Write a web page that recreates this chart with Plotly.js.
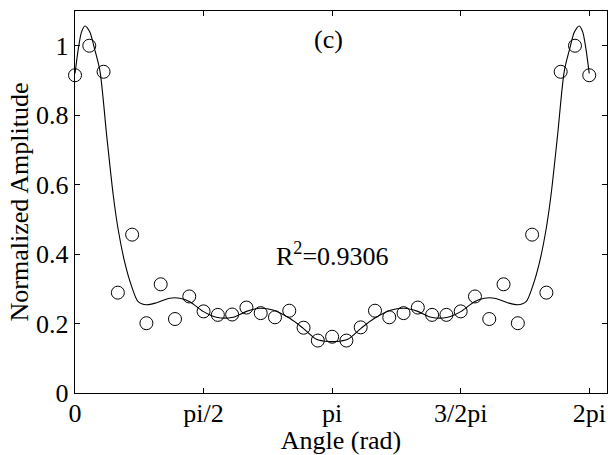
<!DOCTYPE html>
<html>
<head>
<meta charset="utf-8">
<script src="https://cdn.plot.ly/plotly-3.0.1.min.js"></script>
<style>html,body{margin:0;padding:0;background:#fff;}#chart{width:608px;height:455px;}</style>
</head>
<body>
<div id="chart"></div>
<script>
// Measured points: angle in degrees and normalized amplitude
const angleDeg = [0,10,20,30,40,50,60,70,80,90,100,110,120,130,140,150,160,170,180,
                  190,200,210,220,230,240,250,260,270,280,290,300,310,320,330,340,350,360];
const amplitude = [0.915,1.0,0.925,0.289,0.456,0.201,0.313,0.213,0.278,0.235,0.225,0.226,0.246,0.230,0.218,0.237,0.188,0.151,0.162,
                   0.151,0.189,0.237,0.218,0.230,0.246,0.225,0.225,0.235,0.278,0.213,0.313,0.201,0.456,0.289,0.925,1.0,0.915];

// Fitted curve (angle in rad, value)
const fitX = [0,0.04,0.08,0.122,0.18,0.24,0.305,0.387,0.467,0.528,0.61,0.692,0.772,0.875,0.997,1.159,1.281,1.403,1.565,1.729,1.931,2.095,2.257,2.419,2.623,2.785,2.949,3.111,3.1416,
              3.172,3.334,3.498,3.66,3.864,4.026,4.188,4.352,4.554,4.718,4.88,5.002,5.124,5.286,5.408,5.511,5.591,5.673,5.755,5.816,5.896,5.978,6.043,6.103,6.161,6.203,6.243,6.283];
const fitY = [0.92,0.99,1.04,1.057,1.04,0.99,0.927,0.742,0.57,0.47,0.374,0.307,0.263,0.254,0.26,0.273,0.273,0.263,0.235,0.218,0.218,0.235,0.244,0.239,0.215,0.187,0.155,0.148,0.148,
              0.148,0.155,0.187,0.215,0.239,0.244,0.235,0.218,0.218,0.235,0.263,0.273,0.273,0.26,0.254,0.263,0.307,0.374,0.47,0.57,0.742,0.927,0.99,1.04,1.057,1.04,0.99,0.92];

const xTickVals = [0, Math.PI/2, Math.PI, 3*Math.PI/2, 2*Math.PI];
const xTickText = ['0','pi/2','pi','3/2pi','2pi'];
const yTickVals = [0,0.2,0.4,0.6,0.8,1];
const yTickText = ['0','0.2','0.4','0.6','0.8','1'];

const FONT = 'Liberation Serif';
const FS = 26;

const traces = [
  {
    x: angleDeg.map(d => d*Math.PI/180), y: amplitude,
    type: 'scatter', mode: 'markers',
    marker: {symbol: 'circle-open', size: 13, color: '#000', line: {width: 1, color: '#000'}},
    hoverinfo: 'skip', cliponaxis: false
  },
  {
    x: fitX, y: fitY, type: 'scatter', mode: 'lines',
    line: {color: '#000', width: 1.1, shape: 'spline', smoothing: 0.8},
    hoverinfo: 'skip'
  }
];

const layout = {
  width: 608, height: 455,
  margin: {l: 75, r: 1, t: 11, b: 62},
  paper_bgcolor: '#fff', plot_bgcolor: '#fff',
  showlegend: false,
  font: {family: FONT, size: FS, color: '#000'},
  xaxis: {
    range: [0, 6.5], tickvals: xTickVals, ticktext: xTickText,
    ticks: 'inside', ticklen: 5, tickwidth: 1, tickcolor: '#000',
    showline: true, linecolor: '#000', linewidth: 1.3, mirror: 'allticks',
    showgrid: false, zeroline: false, ticklabelstandoff: -4,
    tickfont: {family: FONT, size: FS, color: '#000'},
    title: {text: 'Angle (rad)', font: {family: FONT, size: FS, color: '#000'}, standoff: 0}
  },
  yaxis: {
    range: [0, 1.1], tickvals: yTickVals, ticktext: yTickText,
    ticks: 'inside', ticklen: 5, tickwidth: 1, tickcolor: '#000',
    showline: true, linecolor: '#000', linewidth: 1.3, mirror: 'allticks',
    showgrid: false, zeroline: false,
    tickfont: {family: FONT, size: FS, color: '#000'},
    title: {text: 'Normalized Amplitude', font: {family: FONT, size: FS, color: '#000'}, standoff: 0}
  },
  annotations: [
    {x: 3.093, y: 1.018, xref: 'x', yref: 'y', text: '(c)', showarrow: false,
     xanchor: 'center', yanchor: 'middle', font: {family: FONT, size: FS, color: '#000'}},
    {x: Math.PI, y: 0.4, xref: 'x', yref: 'y', text: 'R<sup>2</sup>=0.9306', showarrow: false,
     xanchor: 'center', yanchor: 'middle', font: {family: FONT, size: FS, color: '#000'}}
  ]
};

Plotly.newPlot('chart', traces, layout, {displayModeBar: false, staticPlot: true});
</script>
</body>
</html>
